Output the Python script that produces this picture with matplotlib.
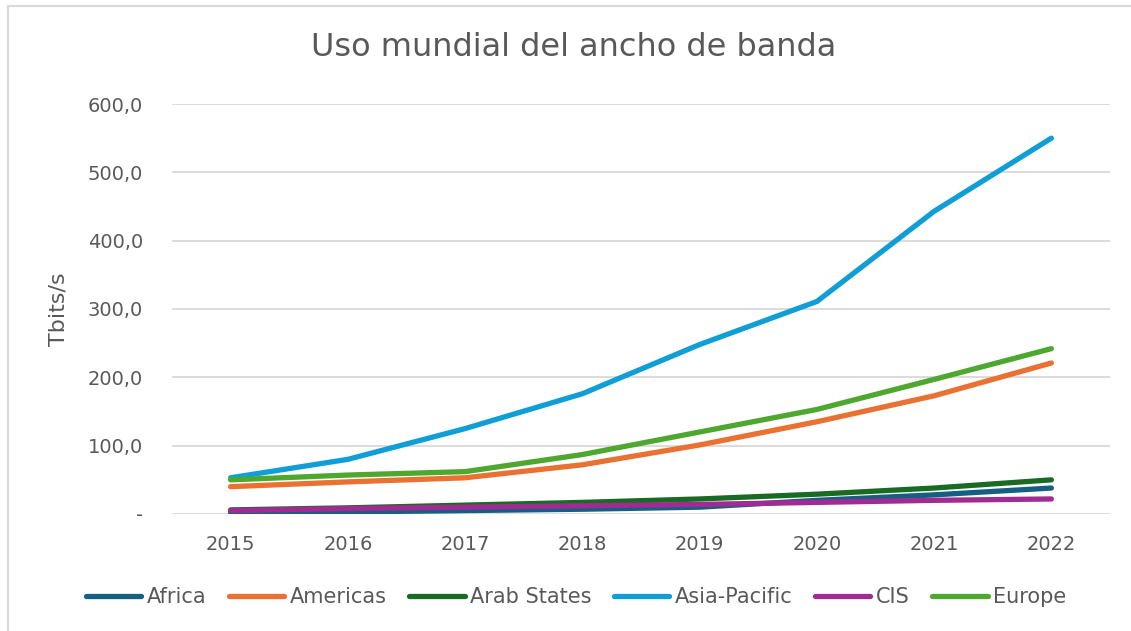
import matplotlib.pyplot as plt
from matplotlib.lines import Line2D
from matplotlib.ticker import FuncFormatter

plt.rcParams['font.family'] = ['DejaVu Sans']

years = ['2015', '2016', '2017', '2018', '2019', '2020', '2021', '2022']
africa = [2, 3, 5, 7, 10, 20, 28, 38]
americas = [40, 47, 53, 72, 101, 135, 173, 221]
arab_states = [6, 9, 13, 17, 22, 29, 38, 50]
asia_pacific = [53, 80, 125, 176, 248, 311, 443, 550]
cis = [5, 8, 10, 12, 14, 17, 20, 22]
europe = [50, 57, 62, 87, 120, 153, 197, 242]

series = [
    ('Africa', africa, '#156082'),
    ('Americas', americas, '#E97132'),
    ('Arab States', arab_states, '#196B24'),
    ('Asia-Pacific', asia_pacific, '#0F9ED5'),
    ('CIS', cis, '#A02B93'),
    ('Europe', europe, '#4EA72E'),
]

txt = '#595959'
grid = '#D9D9D9'

fig = plt.figure(figsize=(11.31, 6.31), dpi=100)
ax = fig.add_axes([172 / 1131, 1 - 514 / 631, 938 / 1131, 410 / 631])

x = list(range(len(years)))
for name, vals, col in series:
    ax.plot(x, vals, color=col, linewidth=3.8, solid_capstyle='round',
            solid_joinstyle='round', label=name)

ax.set_xlim(-0.5, len(years) - 0.5)
ax.set_ylim(0, 600)
ax.set_yticks(range(0, 601, 100))
ax.yaxis.set_major_formatter(FuncFormatter(
    lambda v, p: '-' if v == 0 else f'{v:.1f}'.replace('.', ',')))
ax.set_xticks(x)
ax.set_xticklabels(years)
ax.grid(axis='y', color=grid, linewidth=1.3)
ax.set_axisbelow(True)
for s in ax.spines.values():
    s.set_visible(False)
ax.tick_params(axis='both', length=0, labelsize=14, colors=txt)
ax.tick_params(axis='y', pad=21)
ax.tick_params(axis='x', pad=15)
ax.set_ylabel('Tbits/s', fontsize=16, color=txt, labelpad=14)

fig.text(574 / 1131, 1 - 48 / 631, 'Uso mundial del ancho de banda',
         ha='center', va='center', fontsize=23, color=txt)

fig.legend(loc='center', bbox_to_anchor=(576 / 1131, 1 - 597 / 631),
           ncol=6, frameon=False, fontsize=15, handlelength=2.65,
           handletextpad=0.25, columnspacing=1.1, labelcolor=txt)

# chart area border (only left and top edges are visible in the crop)
fig.add_artist(Line2D([8 / 1131, 8 / 1131], [0, 1 - 6 / 631],
                      transform=fig.transFigure, color=grid, linewidth=1.5))
fig.add_artist(Line2D([8 / 1131, 1], [1 - 6 / 631, 1 - 6 / 631],
                      transform=fig.transFigure, color=grid, linewidth=1.5))

plt.savefig('out.png', dpi=100)
